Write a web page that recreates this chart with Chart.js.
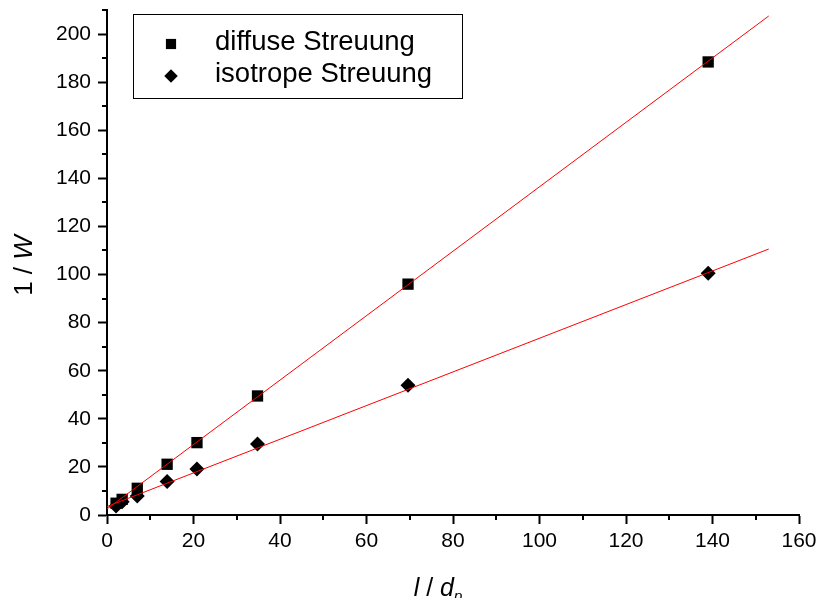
<!DOCTYPE html>
<html>
<head>
  <script src="https://cdn.jsdelivr.net/npm/chart.js@4.4.1/dist/chart.umd.min.js"></script>
<style>
  body { margin: 0; background: #fff; }
  canvas { display: block; }
</style>
</head>
<body>
  <canvas id="myChart" width="817" height="598"></canvas>
  <script>
    // Messwerte
    var xWerte   = [2.1, 3.5, 7.0, 13.9, 20.8, 34.8, 69.6, 139.0];
    var diffus   = [4.9, 6.5, 11.1, 21.1, 30.1, 49.5, 96.0, 188.4];
    var isotrop  = [3.7, 5.5, 7.9, 13.9, 19.1, 29.5, 54.0, 100.5];

    // Ausgleichsgeraden (Endpunkte)
    var fitX       = [0, 153];
    var fitDiffus  = [2.5, 207.5];
    var fitIsotrop = [3.5, 110.6];

    var xTicks = [0, 20, 40, 60, 80, 100, 120, 140, 160];
    var yTicks = [0, 20, 40, 60, 80, 100, 120, 140, 160, 180, 200];
    var xMinor = [10, 30, 50, 70, 90, 110, 130, 150];
    var yMinor = [10, 30, 50, 70, 90, 110, 130, 150, 170, 190, 210];

    function punkte(xs, ys) {
      return xs.map(function (x, i) { return { x: x, y: ys[i] }; });
    }

    var schrift = 'Liberation Sans, Arial, sans-serif';

    // kleine Zwischenstriche an beiden Achsen
    var minorTicks = {
      id: 'minorTicks',
      afterDraw: function (chart) {
        var ctx = chart.ctx, sx = chart.scales.x, sy = chart.scales.y;
        ctx.save();
        ctx.strokeStyle = '#000';
        ctx.lineWidth = 2;
        ctx.beginPath();
        xMinor.forEach(function (v) {
          var p = Math.round(sx.getPixelForValue(v));
          ctx.moveTo(p, sx.top);
          ctx.lineTo(p, sx.top + 5);
        });
        yMinor.forEach(function (v) {
          var p = Math.round(sy.getPixelForValue(v));
          ctx.moveTo(sy.right, p);
          ctx.lineTo(sy.right - 5, p);
        });
        ctx.stroke();
        ctx.restore();
      }
    };

    function textTeile(ctx, teile, groesse) {
      var w = 0;
      teile.forEach(function (t) {
        var g = t.sub ? groesse * 0.6 : groesse;
        ctx.font = (t.kursiv ? 'italic ' : '') + g + 'px ' + schrift;
        t.w = ctx.measureText(t.text).width;
        t.g = g;
        w += t.w;
      });
      return w;
    }

    function zeichneTeile(ctx, teile, x, y) {
      teile.forEach(function (t) {
        ctx.font = (t.kursiv ? 'italic ' : '') + t.g + 'px ' + schrift;
        ctx.fillText(t.text, x, t.sub ? y + 5 : y);
        x += t.w;
      });
    }

    // Achsentitel mit kursiven Formelzeichen
    var achsenTitel = {
      id: 'achsenTitel',
      afterDraw: function (chart) {
        var ctx = chart.ctx, ca = chart.chartArea;
        ctx.save();
        ctx.fillStyle = '#000';
        ctx.textBaseline = 'alphabetic';

        var xt = [
          { text: 'l', kursiv: true },
          { text: ' / ', kursiv: false },
          { text: 'd', kursiv: true },
          { text: 'p', kursiv: true, sub: true }
        ];
        var wx = textTeile(ctx, xt, 25);
        zeichneTeile(ctx, xt, (ca.left + ca.right) / 2 - 15 - wx / 2, 596);

        var yt = [
          { text: '1 / ', kursiv: false },
          { text: 'W', kursiv: true }
        ];
        var wy = textTeile(ctx, yt, 26);
        ctx.translate(32, (ca.top + ca.bottom) / 2 + 3);
        ctx.rotate(-Math.PI / 2);
        zeichneTeile(ctx, yt, -wy / 2, 0);
        ctx.restore();
      }
    };

    // Legende im Diagrammbereich mit Rahmen
    var legende = {
      id: 'legende',
      afterDraw: function (chart) {
        var ctx = chart.ctx, ca = chart.chartArea;
        var bx = ca.left + 26, by = ca.top + 4, bw = 329, bh = 84;
        ctx.save();
        ctx.fillStyle = '#fff';
        ctx.fillRect(bx, by, bw, bh);
        ctx.strokeStyle = '#000';
        ctx.lineWidth = 1;
        ctx.strokeRect(bx + 0.5, by + 0.5, bw, bh);
        var eintraege = chart.data.datasets.filter(function (d) { return !d.showLine; });
        eintraege.forEach(function (d, i) {
          var zy = by + 30 + i * 32;
          ctx.fillStyle = '#000';
          ctx.strokeStyle = '#000';
          Chart.helpers.drawPoint(ctx, {
            pointStyle: d.pointStyle,
            radius: d.pointRadius * 0.9,
            borderWidth: 0
          }, bx + 38, zy);
          ctx.font = '27.5px ' + schrift;
          ctx.textBaseline = 'alphabetic';
          ctx.fillText(d.label, bx + 82, zy + 6);
        });
        ctx.restore();
      }
    };

    var ctx = document.getElementById('myChart');

    var myChart = new Chart(ctx, {
      type: 'scatter',
      data: {
        datasets: [
          {
            label: 'Fit diffus',
            data: punkte(fitX, fitDiffus),
            showLine: true,
            borderColor: '#ff0000',
            borderWidth: 1,
            pointRadius: 0,
            order: 0
          },
          {
            label: 'Fit isotrop',
            data: punkte(fitX, fitIsotrop),
            showLine: true,
            borderColor: '#ff0000',
            borderWidth: 1,
            pointRadius: 0,
            order: 0
          },
          {
            label: 'diffuse Streuung',
            data: punkte(xWerte, diffus),
            pointStyle: 'rect',
            pointRadius: 8,
            backgroundColor: '#000',
            borderColor: '#000',
            borderWidth: 0,
            order: 1
          },
          {
            label: 'isotrope Streuung',
            data: punkte(xWerte, isotrop),
            pointStyle: 'rectRot',
            pointRadius: 7.5,
            backgroundColor: '#000',
            borderColor: '#000',
            borderWidth: 0,
            order: 1
          }
        ]
      },
      options: {
        responsive: false,
        animation: false,
        layout: { padding: { top: 10, right: 18, left: 0, bottom: 0 } },
        plugins: {
          legend: { display: false },
          tooltip: { enabled: false }
        },
        scales: {
          x: {
            type: 'linear',
            min: 0,
            max: 160,
            afterFit: function (s) {
              s.height = 83;
              s.paddingLeft = 0;
              s.paddingRight = 0;
            },
            afterBuildTicks: function (s) {
              s.ticks = xTicks.map(function (v) { return { value: v }; });
            },
            border: { display: true, color: '#000', width: 2 },
            grid: {
              drawOnChartArea: false,
              drawTicks: true,
              tickLength: 9,
              tickWidth: 2,
              color: '#000'
            },
            ticks: {
              color: '#000',
              padding: 5,
              maxRotation: 0,
              font: { family: schrift, size: 21 }
            }
          },
          y: {
            type: 'linear',
            min: 0,
            max: 210,
            afterFit: function (s) {
              s.width = 107;
              s.paddingTop = 0;
              s.paddingBottom = 0;
            },
            afterBuildTicks: function (s) {
              s.ticks = yTicks.map(function (v) { return { value: v }; });
            },
            border: { display: true, color: '#000', width: 2 },
            grid: {
              drawOnChartArea: false,
              drawTicks: true,
              tickLength: 9,
              tickWidth: 2,
              color: '#000'
            },
            ticks: {
              color: '#000',
              padding: 7,
              font: { family: schrift, size: 21 }
            }
          }
        }
      },
      plugins: [minorTicks, achsenTitel, legende]
    });
  </script>
</body>
</html>
